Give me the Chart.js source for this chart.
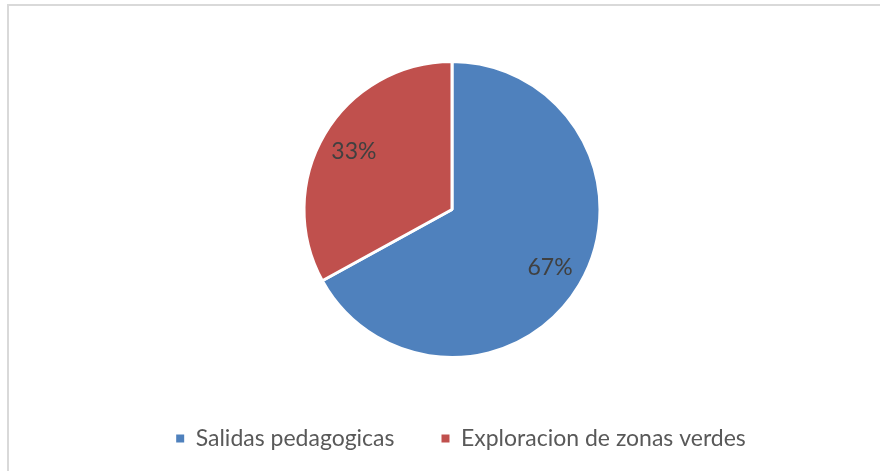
<!DOCTYPE html>
<html>
<head>
<meta charset="utf-8">
<script src="https://cdn.jsdelivr.net/npm/chart.js@4.4.1/dist/chart.umd.min.js"></script>
<style>
  html, body { margin: 0; padding: 0; background: #fff; }
  #wrap { position: relative; width: 880px; height: 471px; overflow: hidden; }
  #frame {
    position: absolute; left: 7px; top: 4px; width: 900px; height: 500px;
    border: 2px solid #d9d9d9; box-sizing: border-box;
  }
  canvas { position: absolute; left: 0; top: 0; }
</style>
</head>
<body>
<div id="wrap">
  <div id="frame"></div>
  <canvas id="chart" width="880" height="471"></canvas>
</div>
<script>
const categories = ["Salidas pedagogicas", "Exploracion de zonas verdes"]
const percentages = [67, 33]
const sliceColors = ["#4F81BD", "#C0504D"]

const FONT = "Lato, 'Open Sans', sans-serif"

// draws the "67%" style labels inside each slice
const sliceLabels = {
  id: "sliceLabels",
  afterDatasetsDraw(chart) {
    const ctx = chart.ctx
    const meta = chart.getDatasetMeta(0)
    ctx.save()
    ctx.font = "23px " + FONT
    ctx.fillStyle = "#404040"
    ctx.textAlign = "center"
    ctx.textBaseline = "middle"
    meta.data.forEach((arc, i) => {
      const p = arc.getProps(["x", "y", "startAngle", "endAngle", "outerRadius"], true)
      const mid = (p.startAngle + p.endAngle) / 2
      const r = p.outerRadius * 0.77
      ctx.fillText(percentages[i] + "%", p.x + Math.cos(mid) * r, p.y + Math.sin(mid) * r)
    })
    ctx.restore()
  },
}

// the legend in the original sits a bit lower and to the right of the pie axis
const legendNudge = {
  id: "legendNudge",
  afterLayout(chart) {
    const lg = chart.legend
    lg.left += 9
    lg.right += 9
    lg.top += 21
    lg.bottom += 21
  },
}

const chart = new Chart(document.getElementById("chart"), {
  type: "pie",
  data: {
    labels: categories,
    datasets: [
      {
        data: percentages,
        backgroundColor: sliceColors,
        borderColor: "#ffffff",
        borderWidth: 3,
        hoverOffset: 0,
      },
    ],
  },
  options: {
    responsive: false,
    animation: false,
    devicePixelRatio: 1,
    layout: {
      padding: { top: 60, bottom: 32, left: 64, right: 40 },
    },
    plugins: {
      tooltip: { enabled: false },
      legend: {
        position: "bottom",
        labels: {
          boxWidth: 8,
          boxHeight: 8,
          padding: 47,
          color: "#595959",
          font: { family: FONT, size: 23 },
          generateLabels(chart) {
            const items = Chart.overrides.pie.plugins.legend.labels.generateLabels(chart)
            return items.map((it) => ({ ...it, lineWidth: 0 }))
          },
        },
      },
    },
  },
  plugins: [sliceLabels, legendNudge],
})
</script>
</body>
</html>
